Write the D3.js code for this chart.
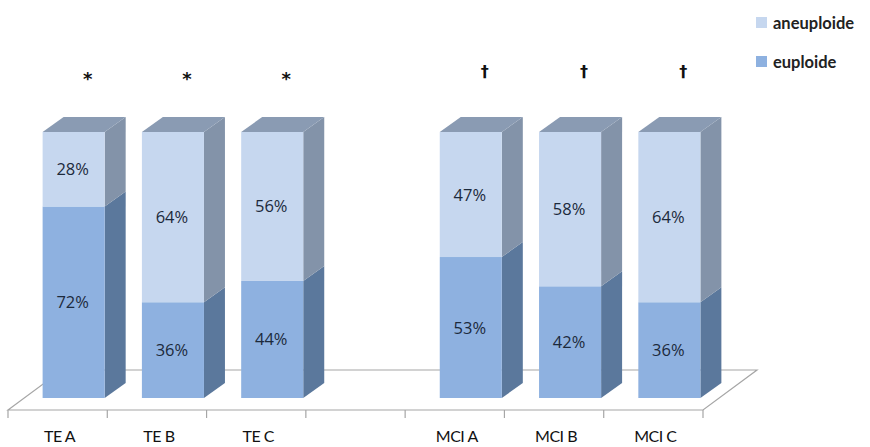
<!DOCTYPE html>
<html><head><meta charset="utf-8">
<script src="https://cdn.jsdelivr.net/npm/d3@7"></script>
<style>body{margin:0;background:#fff}svg{display:block}</style>
</head><body>
<script>
const categories = ["TE A","TE B","TE C","","MCI A","MCI B","MCI C"];
const euploide   = [72, 36, 44, null, 53, 42, 36];
const aneuploide = [28, 64, 56, null, 47, 58, 64];
const marks      = ["*","*","*","","†","†","†"];
const seriesNames = ["euploide","aneuploide"];

const W = 870, H = 447;
const svg = d3.select("body").append("svg").attr("width", W).attr("height", H);

const x = d3.scaleBand().domain(categories).range([8, 703]).paddingInner(0.375).paddingOuter(0.1875);
const y = d3.scaleLinear().domain([0, 100]).range([398, 132]);

// 3D geometry
const floorFrontY = 410, floorDX = 54, floorDY = -40;
const frontShift = 16;          // bar front face shift right from band
const bdx = 21, bdy = -15;      // bar depth

const col = {
  euploide:   {front:"#8eb1e0", side:"#5b789c", top:"#8a9bb3"},
  aneuploide: {front:"#c6d7ef", side:"#8393a9", top:"#8a9bb3"}
};

// floor
const fx0 = x.range()[0], fx1 = x.range()[1];
const floor = svg.append("g").attr("fill","none").attr("stroke","#a6a6a6").attr("stroke-width",1.2);
floor.append("path").attr("d",
  `M${fx0},${floorFrontY} L${fx0+floorDX},${floorFrontY+floorDY} L${fx1+floorDX},${floorFrontY+floorDY} L${fx1},${floorFrontY} Z`);
// ticks
const tickXs = categories.map(c => x(c) - x.step()*x.paddingInner()/2).concat([fx1]);
floor.selectAll("line.tk").data(tickXs).join("line")
  .attr("x1", d => d).attr("x2", d => d).attr("y1", floorFrontY).attr("y2", floorFrontY+8);

// stacked data
const rows = categories.map((c,i) => ({cat:c, euploide:euploide[i], aneuploide:aneuploide[i]})).filter(r => r.euploide != null);
const stack = d3.stack().keys(seriesNames)(rows);

const bars = svg.append("g");
stack.forEach(layer => {
  const key = layer.key;
  layer.forEach(seg => {
    const cat = seg.data.cat;
    const x0 = x(cat) + frontShift, x1 = x0 + x.bandwidth();
    const yTop = y(seg[1]), yBot = y(seg[0]);
    const g = bars.append("g");
    // side
    g.append("path").attr("fill", col[key].side)
      .attr("d", `M${x1},${yBot} L${x1+bdx},${yBot+bdy} L${x1+bdx},${yTop+bdy} L${x1},${yTop} Z`);
    // front
    g.append("rect").attr("x", x0).attr("y", yTop).attr("width", x1-x0).attr("height", yBot-yTop)
      .attr("fill", col[key].front);
    if (seg[1] === 100) {
      g.append("path").attr("fill", col[key].top)
        .attr("d", `M${x0},${yTop} L${x0+bdx},${yTop+bdy} L${x1+bdx},${yTop+bdy} L${x1},${yTop} Z`);
    }
    g.append("text").attr("x", (x0+x1)/2 - 1).attr("y", (yTop+yBot)/2 + 6)
      .attr("text-anchor","middle").attr("font-family","'Open Sans', sans-serif")
      .attr("font-size", 16.5).attr("fill","#1c2a3c")
      .text(seg.data[key] + "%");
  });
});

// significance marks
svg.append("g").selectAll("text").data(categories.map((c,i)=>({c, m:marks[i]})).filter(d=>d.m))
  .join("text")
  .attr("x", d => x(d.c) + frontShift + x.bandwidth()/2 + 14)
  .attr("y", d => d.m === "*" ? 85 : 77)
  .attr("text-anchor","middle").attr("font-family","'DejaVu Sans', sans-serif")
  .attr("font-weight","bold").attr("font-size", d => d.m === "*" ? 18 : 16).attr("fill","#111")
  .text(d => d.m);

// category labels
svg.append("g").selectAll("text").data(categories.filter(c => c))
  .join("text")
  .attr("x", d => x(d) + x.bandwidth()/2 + 2)
  .attr("y", 442)
  .attr("text-anchor","middle").attr("font-family","Lato, sans-serif")
  .attr("font-size", 16).attr("fill","#111").attr("letter-spacing", -0.5)
  .text(d => d);

// legend
const legend = svg.append("g");
const legItems = [{k:"aneuploide", y:17}, {k:"euploide", y:56}];
legend.selectAll("rect").data(legItems).join("rect")
  .attr("x", 756).attr("y", d => d.y).attr("width", 11).attr("height", 11)
  .attr("fill", d => col[d.k].front);
legend.selectAll("text").data(legItems).join("text")
  .attr("x", 773).attr("y", d => d.y + 12)
  .attr("font-family","Lato, sans-serif").attr("font-weight","bold")
  .attr("font-size", 16.5).attr("fill","#222")
  .text(d => d.k);
</script>
</body></html>
